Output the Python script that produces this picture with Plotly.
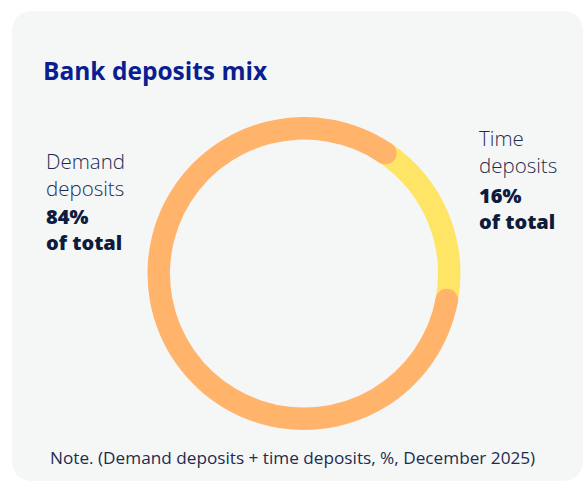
import math
import plotly.graph_objects as go

# ---- data ----
categories = ["Demand deposits", "Time deposits"]
shares = [84, 16]
share_labels = ["84%", "16%"]
title_text = "Bank deposits mix"
note_text = "Note. (Demand deposits + time deposits, %, December 2025)"

# ---- style / geometry (pixels) ----
W, H = 584, 483
CX, CY = 304, 273.5
R_OUT, R_IN = 156.5, 134
R_MID = (R_OUT + R_IN) / 2
CAP_R = (R_OUT - R_IN) / 2
TIME_START_DEG = 38.5
ORANGE = "#FFB36B"
YELLOW = "#FFE566"
PANEL = "#F5F7F7"
TITLE_C = "#0A1E8F"
TEXT_C = "#1D2B4F"
BOLD_C = "#0E1B3D"
FONT = "Open Sans"

cap_pct = CAP_R / R_MID * 180 / math.pi / 360 * 100
shown = [shares[0] - 2 * cap_pct, shares[1] + 2 * cap_pct]
rotation = TIME_START_DEG + shares[1] / 100 * 360 + CAP_R / R_MID * 180 / math.pi

fig = go.Figure()

fig.add_trace(go.Pie(
    labels=categories, values=shown, sort=False, direction="clockwise",
    rotation=rotation, hole=R_IN / R_OUT,
    marker=dict(colors=[ORANGE, YELLOW], line=dict(width=0)),
    textinfo="none", hoverinfo="skip", showlegend=False,
    domain=dict(x=[(CX - R_OUT) / W, (CX + R_OUT) / W],
                y=[(H - CY - R_OUT) / H, (H - CY + R_OUT) / H]),
))

# dummy trace so the pixel-coordinate axes exist
fig.add_trace(go.Scatter(x=[0], y=[0], mode="markers", marker=dict(opacity=0),
                         hoverinfo="skip", showlegend=False))

shapes = []
# panel background
x0, x1, y0, y1, rr = 12, 583, 11, 481, 22
path = (f"M {x0+rr},{y0} L {x1-rr},{y0} Q {x1},{y0} {x1},{y0+rr} "
        f"L {x1},{y1-rr} Q {x1},{y1} {x1-rr},{y1} L {x0+rr},{y1} "
        f"Q {x0},{y1} {x0},{y1-rr} L {x0},{y0+rr} Q {x0},{y0} {x0+rr},{y0} Z")
shapes.append(dict(type="path", path=path, xref="x", yref="y", layer="below",
                   fillcolor=PANEL, line=dict(width=0)))

# rounded caps of the demand-deposit arc
end_angles = [rotation, rotation + shown[0] / 100 * 360]
for a in end_angles:
    t = math.radians(a)
    px = CX + R_MID * math.sin(t)
    py = CY - R_MID * math.cos(t)
    shapes.append(dict(type="circle", xref="x", yref="y", layer="above",
                       x0=px - CAP_R, x1=px + CAP_R, y0=py - CAP_R, y1=py + CAP_R,
                       fillcolor=ORANGE, line=dict(width=0)))

LIGHT = dict(family=FONT, size=20.5, color=TEXT_C, weight=300)
BOLD = dict(family=FONT, size=20, color=BOLD_C, weight=800)

annotations = [
    dict(text=title_text, x=41, y=70, font=dict(family=FONT, size=24.5, color=TITLE_C, weight=700)),
    dict(text="Demand<br>deposits", x=44, y=174, font=LIGHT),
    dict(text=f"{share_labels[0]}<br>of total", x=44, y=229.5, font=BOLD),
    dict(text="Time<br>deposits", x=477, y=151, font=LIGHT),
    dict(text=f"{share_labels[1]}<br>of total", x=477, y=208.5, font=BOLD),
    dict(text=note_text, x=48, y=457, font=dict(family=FONT, size=17.2, color=TEXT_C)),
]
for a in annotations:
    a.update(xref="x", yref="y", xanchor="left", yanchor="middle", showarrow=False, align="left")

fig.update_layout(
    width=W, height=H, margin=dict(l=0, r=0, t=0, b=0),
    paper_bgcolor="white", plot_bgcolor="rgba(0,0,0,0)",
    xaxis=dict(range=[0, W], visible=False, domain=[0, 1], fixedrange=True),
    yaxis=dict(range=[H, 0], visible=False, domain=[0, 1], fixedrange=True),
    shapes=shapes, annotations=annotations,
)

fig.write_html("out.html")
